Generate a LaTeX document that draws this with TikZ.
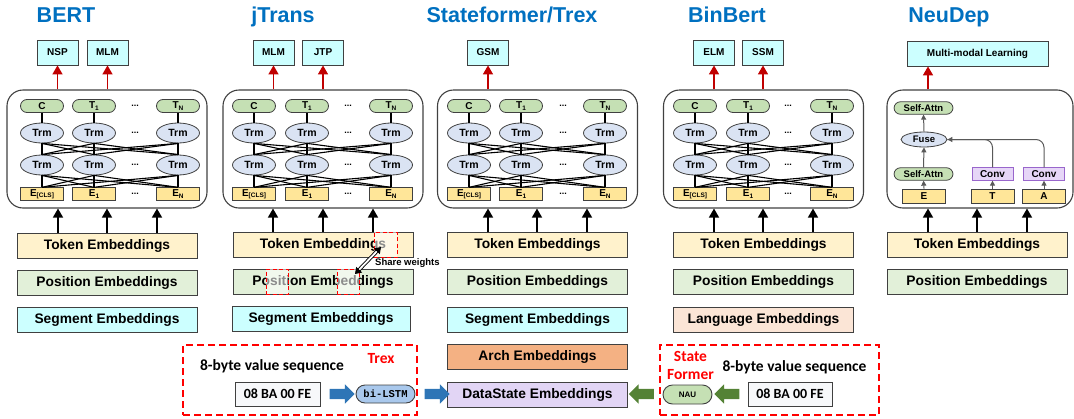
\documentclass[tikz,border=0pt]{standalone}
\usepackage{fontspec}
\setmainfont{Liberation Sans}
\newfontfamily\calfont{Carlito}
\newfontfamily\lmono{Liberation Mono}
\usetikzlibrary{shapes.geometric,shapes.arrows,arrows.meta}
\definecolor{ttlblue}{RGB}{0,112,192}
\definecolor{bordc}{HTML}{404040}
\definecolor{headc}{HTML}{CCFFFF}
\definecolor{pillc}{HTML}{C5E0B4}
\definecolor{trmc}{HTML}{DAE3F3}
\definecolor{ecol}{HTML}{FFE699}
\definecolor{tokc}{HTML}{FFF2CC}
\definecolor{posc}{HTML}{E2F0D9}
\definecolor{segc}{HTML}{CCFFFF}
\definecolor{langc}{HTML}{FBE5D6}
\definecolor{archc}{HTML}{F4B183}
\definecolor{datac}{HTML}{E2D5F5}
\definecolor{convf}{HTML}{E6D6F7}
\definecolor{convb}{HTML}{9966CC}
\definecolor{redc}{HTML}{C00000}
\definecolor{brightred}{HTML}{FF0000}
\definecolor{garr}{HTML}{595959}
\definecolor{barrc}{HTML}{2E75B6}
\definecolor{gblock}{HTML}{548235}
\definecolor{lstmc}{HTML}{A9C8EC}
\definecolor{hexc}{HTML}{F7F8FA}
\newcommand\mysub[1]{\raisebox{-1.3pt}{\fontsize{6.5}{6.5}\selectfont #1}}
\newcommand\tfblock[6]{%
  \node[bigbox] (#1box) at (#2,149) {};
  \node[pill] (#1c1) at (#3,106) {C};
  \node[pill] (#1c2) at (#4,106) {T\mysub{1}};
  \node[pill] (#1c3) at (#5,106) {T\mysub{N}};
  \foreach \i/\x in {1/#3,2/#4,3/#5} {
    \node[trm] (#1a\i) at (\x,133) {Trm};
    \node[trm] (#1b\i) at (\x,165) {Trm};
  }
  \node[ebox] (#1e1) at (#3,194) {E\mysub{[CLS]}};
  \node[ebox] (#1e2) at (#4,194) {E\mysub{1}};
  \node[ebox] (#1e3) at (#5,194) {E\mysub{N}};
  \foreach \i in {1,2,3} {\draw[netline] (#1c\i) -- (#1a\i);}
  \foreach \i in {1,2,3} {\foreach \j in {1,2,3} {
    \draw[netline] (#1a\i.south) -- (#1b\j.north);
    \draw[netline] (#1b\i.south) -- (#1e\j.north);
  }}
  \foreach \y/\k in {106/d1,133/d2,165/d3,194/d4} {\node[dotsty] (#1\k) at (#6,\y) {...};}
}
\begin{document}
\begin{tikzpicture}[x=1pt,y=-1pt,
  title/.style={text=ttlblue, font=\bfseries\fontsize{21.5}{24}\selectfont, anchor=base},
  head/.style={draw=bordc, fill=headc, line width=0.8pt, minimum width=41pt, minimum height=25pt, inner sep=0pt, font=\bfseries\fontsize{10}{12}\selectfont},
  pill/.style={draw=bordc, fill=pillc, line width=0.8pt, rounded corners=6.5pt, minimum width=43pt, minimum height=13pt, inner sep=0pt, font=\bfseries\fontsize{10}{12}\selectfont},
  trm/.style={ellipse, draw=bordc, fill=trmc, line width=0.8pt, minimum width=43pt, minimum height=20pt, inner sep=0pt, font=\bfseries\fontsize{10.5}{12}\selectfont},
  ebox/.style={draw=bordc, fill=ecol, line width=0.8pt, minimum width=43pt, minimum height=12.5pt, inner sep=0pt, font=\bfseries\fontsize{10}{12}\selectfont},
  convbox/.style={draw=convb, fill=convf, line width=0.8pt, minimum width=41pt, minimum height=12.5pt, inner sep=0pt, font=\bfseries\fontsize{10}{12}\selectfont},
  emb/.style={draw=bordc, line width=0.8pt, minimum width=180pt, minimum height=25pt, inner sep=0pt, font=\bfseries\fontsize{13.8}{15}\selectfont},
  bigbox/.style={draw=bordc, line width=1.1pt, rounded corners=16pt, minimum width=200pt, minimum height=118pt, inner sep=0pt},
  headarrow/.style={draw=redc, line width=1.5pt, -{Triangle[length=9pt,width=10pt]}},
  inarrow/.style={draw=black, line width=1.5pt, -{Triangle[length=9pt,width=10pt]}},
  grayarrow/.style={draw=garr, line width=1pt, -{Triangle[length=5pt,width=5pt]}},
  netline/.style={draw=black, line width=1.1pt},
  dotsty/.style={font=\bfseries\fontsize{9}{10}\selectfont, inner sep=0pt},
  reddashbox/.style={draw=brightred, line width=1.4pt, dash pattern=on 7pt off 4pt, inner sep=0pt},
  shareov/.style={draw=brightred, line width=1pt, dash pattern=on 4pt off 2.5pt, fill=white, fill opacity=0.55, inner sep=0pt},
  caltext/.style={font=\calfont\bfseries\fontsize{15.5}{18}\selectfont, inner sep=0pt},
  hexbox/.style={draw=bordc, fill=hexc, line width=1pt, minimum width=85pt, minimum height=24pt, inner sep=0pt, font=\calfont\bfseries\fontsize{14}{16}\selectfont},
  blockarr/.style={single arrow, draw=none, minimum height=25pt, inner xsep=0pt, inner ysep=5pt, single arrow head extend=4.5pt, single arrow head indent=0pt}
]
\useasboundingbox (0,0) rectangle (1074,418);

% titles
\node[title] (tBERT) at (66,22) {BERT};
\node[title] (tJT) at (283,22) {jTrans};
\node[title] (tSF) at (512,22) {Stateformer/Trex};
\node[title] (tBB) at (727,22) {BinBert};
\node[title] (tND) at (949,22) {NeuDep};

% transformer blocks
\tfblock{B}{107}{42}{94}{178}{135}
\tfblock{J}{323}{254}{307}{391}{348}
\tfblock{S}{537.5}{469}{521}{605}{563}
\tfblock{N}{763.5}{695}{748}{832}{788}

% heads
\node[head] (hNSP) at (57.5,52.5) {NSP};
\node[head] (hMLM) at (107.5,52.5) {MLM};
\node[head] (hJMLM) at (273.5,52.5) {MLM};
\node[head] (hJTP) at (323,52.5) {JTP};
\node[head] (hGSM) at (488,52.5) {GSM};
\node[head] (hELM) at (714,52.5) {ELM};
\node[head] (hSSM) at (763,52.5) {SSM};
\node[head, minimum width=141pt] (hMML) at (977.5,53.5) {Multi-modal Learning};
\draw[headarrow] (hNSP |- Bbox.north) -- (hNSP.south);
\draw[headarrow] (hMLM |- Bbox.north) -- (hMLM.south);
\draw[headarrow] (hJMLM |- Jbox.north) -- (hJMLM.south);
\draw[headarrow] (hJTP |- Jbox.north) -- (hJTP.south);
\draw[headarrow] (hGSM |- Sbox.north) -- (hGSM.south);
\draw[headarrow] (hELM |- Nbox.north) -- (hELM.south);
\draw[headarrow] (hSSM |- Nbox.north) -- (hSSM.south);

% NeuDep block
\node[bigbox, minimum width=186pt] (Dbox) at (980,149) {};
\node[pill, minimum width=59pt, minimum height=12.5pt, font=\bfseries\fontsize{9.5}{11}\selectfont] (dsa2) at (923.5,108) {Self-Attn};
\node[trm, minimum width=46pt, minimum height=15pt, font=\bfseries\fontsize{9.5}{11}\selectfont] (dfuse) at (924,139.5) {Fuse};
\node[pill, minimum width=59pt, minimum height=12.5pt, font=\bfseries\fontsize{9.5}{11}\selectfont] (dsa1) at (923.5,174) {Self-Attn};
\node[convbox] (dconv1) at (992.5,174) {Conv};
\node[convbox] (dconv2) at (1044,174) {Conv};
\node[ebox, minimum height=14pt] (dE) at (924,196) {E};
\node[ebox, minimum height=14pt] (dT) at (992.5,196) {T};
\node[ebox, minimum height=14pt] (dA) at (1044,196) {A};
\draw[grayarrow] (dE.north) -- (dsa1.south);
\draw[grayarrow] (dsa1.north) -- (dfuse.south);
\draw[grayarrow] (dfuse.north) -- (dsa2.south);
\draw[grayarrow] (dT.north) -- (dconv1.south);
\draw[grayarrow] (dA.north) -- (dconv2.south);
\draw[draw=garr, line width=1pt, rounded corners=8pt] (dconv2.north) |- (dfuse.east);
\draw[grayarrow, rounded corners=8pt] (dconv1.north) |- (dfuse.east);
\draw[headarrow] (928,0 |- Dbox.north) -- (928,0 |- hMML.south);

% embeddings
\node[emb, fill=tokc] (Btok) at (107,245.5) {Token Embeddings};
\node[emb, fill=posc] (Bpos) at (107,283) {Position Embeddings};
\node[emb, fill=segc] (Bseg) at (107,320) {Segment Embeddings};
\node[emb, fill=tokc] (Jtok) at (323,244.5) {Token Embeddings};
\node[emb, fill=posc] (Jpos) at (323,281.5) {Position Embeddings};
\node[emb, fill=segc, minimum width=178pt] (Jseg) at (321,319) {Segment Embeddings};
\node[emb, fill=tokc] (Stok) at (537.5,244.5) {Token Embeddings};
\node[emb, fill=posc] (Spos) at (537.5,282) {Position Embeddings};
\node[emb, fill=segc] (Sseg) at (537.5,319.5) {Segment Embeddings};
\node[emb, fill=archc] (Sarch) at (537.5,357) {Arch Embeddings};
\node[emb, fill=datac] (Sdata) at (537.5,394.5) {DataState Embeddings};
\node[emb, fill=tokc] (Ntok) at (763.5,244.5) {Token Embeddings};
\node[emb, fill=posc] (Npos) at (763.5,282) {Position Embeddings};
\node[emb, fill=langc] (Nlang) at (763.5,319.5) {Language Embeddings};
\node[emb, fill=tokc] (Dtok) at (977,244.5) {Token Embeddings};
\node[emb, fill=posc] (Dpos) at (977,282) {Position Embeddings};

% input arrows
\foreach \x in {58,107,157} {\draw[inarrow] (\x,0 |- Btok.north) -- (\x,0 |- Bbox.south);}
\foreach \x in {273,323,373} {\draw[inarrow] (\x,0 |- Jtok.north) -- (\x,0 |- Jbox.south);}
\foreach \x in {488,537,587} {\draw[inarrow] (\x,0 |- Stok.north) -- (\x,0 |- Sbox.south);}
\foreach \x in {714,763,813} {\draw[inarrow] (\x,0 |- Ntok.north) -- (\x,0 |- Nbox.south);}
\foreach \x in {928,977,1027} {\draw[inarrow] (\x,0 |- Dtok.north) -- (\x,0 |- Dbox.south);}

% share weights
\node[shareov, minimum width=23pt, minimum height=25pt] (sw1) at (385.5,244.5) {};
\node[shareov, minimum width=22pt, minimum height=25pt] (sw2) at (277,281.5) {};
\node[shareov, minimum width=22pt, minimum height=25pt] (sw3) at (348,281.5) {};
\coordinate (swa) at (381,247);
\coordinate (swb) at (355,274);
\draw[double=white, draw=black, line width=0.9pt, double distance=1.8pt, {Triangle[length=6pt,width=8pt]}-{Triangle[length=6pt,width=8pt]}] (swa) -- (swb);
\node[anchor=west, inner sep=0pt, font=\bfseries\fontsize{9.5}{11}\selectfont] (swt) at (375,263) {Share weights};

% Trex box
\node[reddashbox, minimum width=234pt, minimum height=70pt] (trexbox) at (300,380) {};
\node[caltext] (trexlbl) at (272,366) {8-byte value sequence};
\node[caltext, text=brightred] (trexname) at (381,359) {Trex};
\node[hexbox] (trexhex) at (277.5,394) {08 BA 00 FE};
\node[blockarr, fill=barrc] (barr1) at (339.5,394) {};
\node[draw=bordc, fill=lstmc, line width=0.9pt, rounded corners=9pt, minimum width=59pt, minimum height=18pt, inner sep=0pt, font=\lmono\bfseries\fontsize{10.5}{12}\selectfont] (lstm) at (385.5,394) {bi-LSTM};
\node[blockarr, fill=barrc] (barr2) at (434.5,394) {};

% StateFormer box
\node[reddashbox, minimum width=219pt, minimum height=70pt] (sfbox) at (769.5,380) {};
\node[caltext, text=brightred, align=center] (sfname) at (690.5,365) {State\\Former};
\node[caltext] (sflbl) at (794.5,367) {8-byte value sequence};
\node[draw=bordc, fill=pillc, line width=0.9pt, rounded corners=9.5pt, minimum width=49pt, minimum height=19pt, inner sep=0pt, font=\bfseries\fontsize{8}{9}\selectfont] (nau) at (687.5,394.5) {NAU};
\node[blockarr, fill=gblock, shape border rotate=180] (garr1) at (729.5,394) {};
\node[blockarr, fill=gblock, shape border rotate=180] (garr2) at (644,394) {};
\node[hexbox, minimum width=84pt] (sfhex) at (790,394) {08 BA 00 FE};
\end{tikzpicture}
\end{document}
